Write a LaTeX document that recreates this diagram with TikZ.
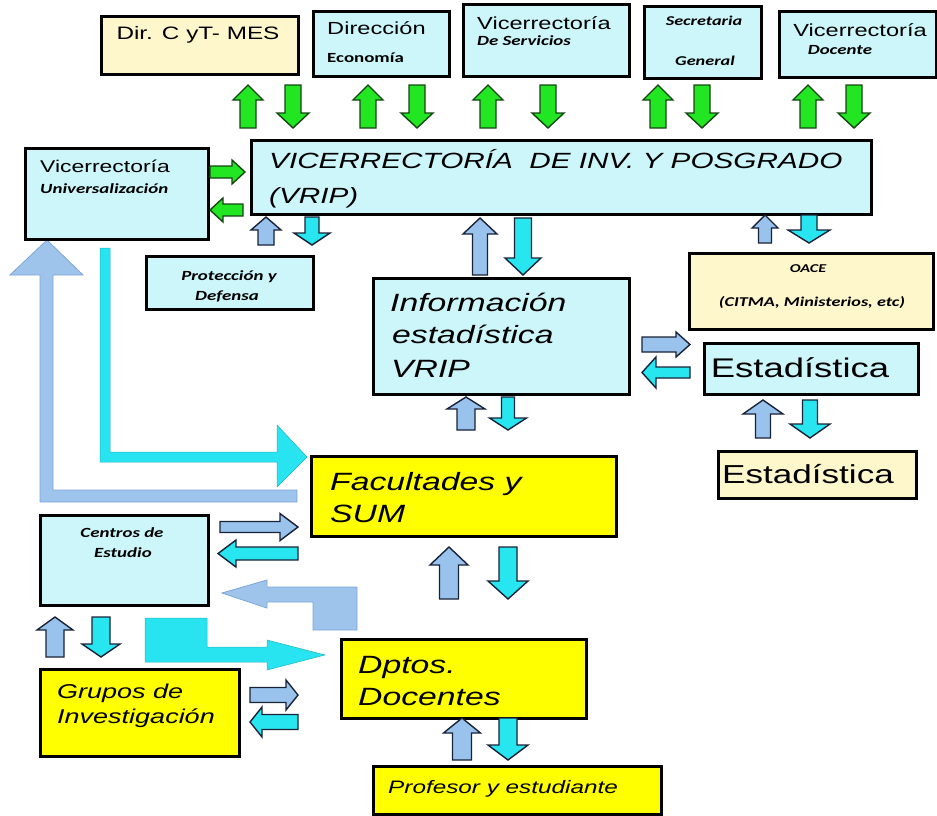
\documentclass[tikz,border=0pt]{standalone}
\usepackage{graphicx}
\usepackage{fontspec}
\setmainfont{Liberation Sans}
\newfontfamily\calib{Carlito}
\definecolor{lcyan}{RGB}{204,246,250}
\definecolor{lyel}{RGB}{255,247,204}
\definecolor{yel}{RGB}{255,255,0}
\definecolor{grn}{RGB}{34,230,34}
\definecolor{grnd}{RGB}{20,70,20}
\definecolor{lblu}{RGB}{153,194,236}
\definecolor{cyn}{RGB}{40,230,240}
\definecolor{adark}{RGB}{25,35,55}
\definecolor{bigblu}{RGB}{158,196,236}
\definecolor{bigblud}{RGB}{125,165,215}
\definecolor{bigcyn}{RGB}{40,228,240}
\newcommand{\sx}[1]{\scalebox{1.35}[1]{#1}}
\newcommand{\fz}[1]{\fontsize{#1}{#1}\selectfont}
\tikzset{
 box/.style={draw=black, line width=3.2pt, inner sep=0pt, anchor=north west},
 lab/.style={inner sep=0pt},
 rg/.style={font=\fz{#1}},
 it/.style={font=\itshape\fz{#1}},
 cbi/.style={font=\calib\bfseries\itshape\fz{#1}},
 garr/.style={fill=grn, draw=grnd, line width=1.4pt},
 barr/.style={fill=lblu, draw=adark, line width=1.4pt},
 carr/.style={fill=cyn, draw=adark, line width=1.4pt},
 bigb/.style={fill=bigblu, draw=bigblud, line width=0.8pt},
 bigc/.style={fill=bigcyn, draw=bigcyn!80!black, line width=0.5pt},
}
% box: name, fill, x1, y1, x2, y2
\newcommand{\bx}[6]{\node[box, fill=#2, minimum width={#5-#3}, minimum height={#6-#4}] (#1) at (#3,#4) {};}
% block arrow: style, x, y (tail centre), angle, length, shaft half, head half, head length
\newcommand{\blk}[8]{\begin{scope}[shift={(#2,#3)}, rotate=#4]
 \draw[#1] (0,-#6) -- ({#5-#8},-#6) -- ({#5-#8},-#7) -- (#5,0) -- ({#5-#8},#7) -- ({#5-#8},#6) -- (0,#6) -- cycle;
 \end{scope}}
\begin{document}
\begin{tikzpicture}[x=1pt,y=-1pt]
\useasboundingbox (0,0) rectangle (937,816);
\fill[white] (0,0) rectangle (937,816);

% big L arrows
\draw[bigb] (47,240) -- (83,275) -- (53,275) -- (53,490) -- (297,490) -- (297,502) -- (40,502) -- (40,275) -- (10,275) -- cycle;
\draw[bigc] (100,248) -- (110,248) -- (110,452) -- (277,452) -- (277,425) -- (307,457) -- (277,487) -- (277,462) -- (100,462) -- cycle;
% bent arrows
\draw[bigb] (357,587) -- (267,587) -- (267,580) -- (222,593) -- (267,608) -- (267,602) -- (313,602) -- (313,630) -- (357,630) -- cycle;
\draw[bigc] (145,618) -- (207,618) -- (207,647) -- (267,647) -- (267,640) -- (325,655) -- (267,670) -- (267,662) -- (145,662) -- cycle;

% boxes
\bx{dir}{lyel}{100}{15}{297}{73}
\bx{dire}{lcyan}{312}{10}{448}{75}
\bx{vser}{lcyan}{462}{3}{628}{75}
\bx{sec}{lcyan}{643}{5}{760}{77}
\bx{vdoc}{lcyan}{778}{10}{935}{76}
\bx{vrip}{lcyan}{250}{139}{870}{213}
\bx{vuni}{lcyan}{24}{147}{207}{238}
\bx{prot}{lcyan}{145}{255}{312}{308}
\bx{oace}{lyel}{688}{252}{932}{328}
\bx{info}{lcyan}{372}{277}{628}{393}
\bx{esta}{lcyan}{703}{342}{917}{393}
\bx{estb}{lyel}{717}{450}{915}{497}
\bx{fac}{yel}{310}{455}{615}{535}
\bx{cen}{lcyan}{39}{514}{207}{604}
\bx{gru}{yel}{39}{668}{238}{755}
\bx{dpt}{yel}{340}{638}{585}{717}
\bx{prof}{yel}{372}{765}{660}{813}

% green arrows (top row)
\blk{garr}{248}{128}{90}{43}{8}{15}{15}
\blk{garr}{368}{128}{90}{43}{8}{15}{15}
\blk{garr}{488}{128}{90}{43}{8}{15}{15}
\blk{garr}{658}{128}{90}{43}{8}{15}{15}
\blk{garr}{808}{128}{90}{43}{8}{15}{15}
\blk{garr}{293}{85}{-90}{43}{8}{16}{15}
\blk{garr}{417}{85}{-90}{43}{8}{16}{15}
\blk{garr}{548}{85}{-90}{43}{8}{16}{15}
\blk{garr}{702}{85}{-90}{43}{8}{16}{15}
\blk{garr}{854}{85}{-90}{43}{8}{16}{15}
% green side arrows
\blk{garr}{210}{172}{0}{35}{6}{12}{13}
\blk{garr}{243}{210}{180}{33}{6}{12}{13}

% blue / cyan arrows
\blk{barr}{266}{245}{90}{28}{8}{15}{13}
\blk{carr}{312}{217}{-90}{28}{7}{18}{12}
\blk{barr}{480}{275}{90}{57}{7.5}{17}{16}
\blk{carr}{523}{218}{-90}{57}{8.5}{18}{17}
\blk{barr}{765}{243}{90}{28}{6.5}{13}{13}
\blk{carr}{809}{215}{-90}{28}{8}{21}{13}
\blk{barr}{642}{344.5}{0}{48}{7.5}{12.5}{14}
\blk{carr}{690}{372.5}{180}{48}{5.5}{15.5}{14}
\blk{barr}{466}{430}{90}{33}{9}{19}{12}
\blk{carr}{508}{397}{-90}{33}{6.5}{18.5}{12}
\blk{barr}{763}{438}{90}{38}{7.5}{20}{14}
\blk{carr}{810}{400}{-90}{38}{7.5}{20}{14}
\blk{barr}{449}{599}{90}{52}{9.5}{19}{18}
\blk{carr}{508}{547}{-90}{52}{9}{20}{18}
\blk{barr}{462}{760}{90}{42}{9.5}{18.5}{15}
\blk{carr}{508}{718}{-90}{42}{9}{20}{15}
\blk{barr}{220}{527}{0}{78}{5.5}{13.5}{18}
\blk{carr}{298}{553.5}{180}{80}{6.5}{13.5}{18}
\blk{barr}{55}{657}{90}{40}{9}{18}{13}
\blk{carr}{101}{617}{-90}{40}{9}{19}{13}
\blk{barr}{250}{695}{0}{48}{7.5}{15}{12}
\blk{carr}{298}{722}{180}{48}{7.5}{15}{12}

% texts
\node[lab, rg=18, anchor=base] (tdir) at (198,40) {\sx{Dir. C yT- MES}};
\node[lab, rg=17.5, anchor=base west] (tdire1) at (327,35) {\sx{Dirección}};
\node[lab, font=\calib\bfseries\fz{14}, anchor=base west] (tdire2) at (327,63) {\sx{Economía}};
\node[lab, rg=17.5, anchor=base west] (tvser1) at (477,30) {\sx{Vicerrectoría}};
\node[lab, cbi=14, anchor=base west] (tvser2) at (477,46) {\sx{De Servicios}};
\node[lab, cbi=13.5, anchor=base] (tsec1) at (704,26) {\sx{Secretaria}};
\node[lab, cbi=13.5, anchor=base] (tsec2) at (705,66) {\sx{General}};
\node[lab, rg=17.5, anchor=base] (tvdoc1) at (860,37) {\sx{Vicerrectoría}};
\node[lab, cbi=14, anchor=base] (tvdoc2) at (840,55) {\sx{Docente}};
\node[lab, it=22, anchor=base west] (tvrip1) at (269,168) {\sx{VICERRECTORÍA\ \ DE INV. Y POSGRADO}};
\node[lab, it=22, anchor=base west] (tvrip2) at (269,203) {\sx{(VRIP)}};
\node[lab, rg=17, anchor=base west] (tvuni1) at (40,172) {\sx{Vicerrectoría}};
\node[lab, cbi=14, anchor=base west] (tvuni2) at (40,193) {\sx{Universalización}};
\node[lab, cbi=14, anchor=base] (tprot1) at (229,280) {\sx{Protección y}};
\node[lab, cbi=14, anchor=base] (tprot2) at (227,300) {\sx{Defensa}};
\node[lab, cbi=12, anchor=base] (toace1) at (808,272) {\sx{OACE}};
\node[lab, cbi=13.5, anchor=base] (toace2) at (812,306) {\sx{(CITMA, Ministerios, etc)}};
\node[lab, it=25, anchor=base west] (tinfo1) at (390,311) {\sx{Información}};
\node[lab, it=25, anchor=base west] (tinfo2) at (392,343) {\sx{estadística}};
\node[lab, it=25, anchor=base west] (tinfo3) at (391,377) {\sx{VRIP}};
\node[lab, rg=27, anchor=base] (testa) at (800,377) {\sx{Estadística}};
\node[lab, rg=26, anchor=base] (testb) at (808,483) {\sx{Estadística}};
\node[lab, it=25, anchor=base west] (tfac1) at (330,490) {\sx{Facultades y}};
\node[lab, it=25, anchor=base west] (tfac2) at (330,522) {\sx{SUM}};
\node[lab, cbi=14, anchor=base] (tcen1) at (122,537) {\sx{Centros de}};
\node[lab, cbi=14, anchor=base] (tcen2) at (123,557) {\sx{Estudio}};
\node[lab, it=20, anchor=base west] (tgru1) at (57,698) {\sx{Grupos de}};
\node[lab, it=20, anchor=base west] (tgru2) at (57,723) {\sx{Investigación}};
\node[lab, it=25, anchor=base west] (tdpt1) at (358,673) {\sx{Dptos.}};
\node[lab, it=25, anchor=base west] (tdpt2) at (358,705) {\sx{Docentes}};
\node[lab, it=18, anchor=base west] (tprof) at (388,793) {\sx{Profesor y estudiante}};
\end{tikzpicture}
\end{document}
